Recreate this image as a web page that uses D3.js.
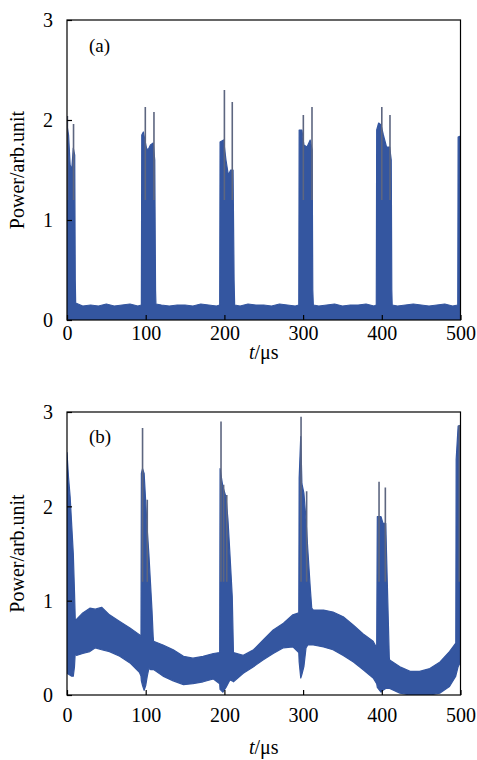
<!DOCTYPE html>
<html>
<head>
<meta charset="utf-8">
<script src="https://cdn.jsdelivr.net/npm/d3@7/dist/d3.min.js"></script>
<style>
  html, body { margin: 0; padding: 0; background: #ffffff; }
  svg { display: block; }
  text { font-family: "Liberation Serif", "Times New Roman", serif; fill: #000; }
</style>
</head>
<body>
<svg id="chart" width="477" height="760"></svg>
<script>
// ---------- data ----------
const xTicks = [0, 100, 200, 300, 400, 500];
const yTicks = [0, 1, 2, 3];
const xTitle = "t/μs";
const yTitle = "Power/arb.unit";

// Panel (a): upper envelope of the signal (lower bound is 0)
const aT = [0, 2, 4, 6, 8, 9.8, 10.5, 11, 20, 30, 40, 50, 60, 70, 80, 90, 94.5,
  95, 97, 99, 101, 103, 106, 109.5, 111.5, 112.5, 113, 120, 130, 140, 150, 160, 170, 180, 190, 194,
  194.5, 199, 202, 205, 208, 211, 212.3, 213, 220, 230, 240, 250, 260, 270, 280, 290, 294.5,
  295, 298.5, 301, 305, 309, 311.5, 312.3, 313, 320, 330, 340, 350, 360, 370, 380, 390, 393,
  393.5, 396, 399, 402, 406, 410, 412, 412.7, 413.2, 420, 430, 440, 450, 460, 470, 480, 490, 496.5,
  497, 500];
const aTop = [1.95, 1.85, 1.55, 1.5, 1.72, 1.65, 0.4, 0.17, 0.14, 0.15, 0.14, 0.16, 0.14, 0.15, 0.16, 0.14, 0.15,
  1.85, 1.88, 1.8, 1.72, 1.7, 1.75, 1.77, 1.6, 0.3, 0.16, 0.15, 0.14, 0.15, 0.15, 0.14, 0.16, 0.15, 0.14, 0.15,
  1.78, 1.8, 1.6, 1.45, 1.5, 1.5, 0.4, 0.15, 0.14, 0.16, 0.15, 0.15, 0.14, 0.16, 0.15, 0.14, 0.15,
  1.9, 1.9, 1.75, 1.73, 1.8, 1.7, 0.3, 0.15, 0.14, 0.15, 0.16, 0.14, 0.15, 0.15, 0.16, 0.14, 0.15,
  1.9, 1.97, 1.95, 1.85, 1.73, 1.73, 1.6, 0.3, 0.15, 0.14, 0.15, 0.16, 0.15, 0.14, 0.15, 0.16, 0.14, 0.15,
  1.83, 1.84];
// Panel (a): narrow peak spikes
const aSpikeT = [0.5, 8.3, 99.5, 110.5, 200, 210, 300.3, 311.3, 400, 410.4];
const aSpikeV = [2.04, 1.96, 2.13, 2.08, 2.30, 2.18, 2.05, 2.13, 2.13, 2.05];

// Panel (b): upper and lower envelope of the signal
const bT = [0, 2, 4, 6, 8, 9.5, 10.5, 12, 20, 29, 36, 44, 54, 67, 80, 92, 94,
  94.5, 96, 98, 100, 102, 104, 106, 108, 109.5, 110, 122, 135, 148, 160, 173, 186, 194,
  194.5, 198, 202, 204.5, 207, 210, 211.5, 224, 237, 249, 262, 275, 287, 294.5,
  295, 297, 298.5, 301, 303.7, 306, 309, 311, 313, 326, 338, 351, 364, 376, 389, 393.5,
  394.3, 399, 401.5, 405, 407, 409.5, 410, 423, 436, 448, 461, 474, 486, 494,
  494.5, 497, 500];
const bHi = [2.57, 2.3, 2.1, 1.8, 1.5, 1.1, 0.8, 0.8, 0.87, 0.92, 0.91, 0.93, 0.85, 0.78, 0.71, 0.64, 0.62,
  2.35, 2.4, 2.35, 2.05, 1.75, 1.5, 1.2, 0.9, 0.62, 0.57, 0.53, 0.48, 0.41, 0.39, 0.41, 0.44, 0.45,
  2.4, 2.21, 2.1, 1.86, 1.5, 1.04, 0.45, 0.42, 0.48, 0.58, 0.69, 0.76, 0.85, 0.87,
  2.3, 2.74, 2.24, 2.14, 1.86, 1.54, 1.15, 0.92, 0.9, 0.9, 0.88, 0.83, 0.74, 0.65, 0.57, 0.5,
  1.89, 1.89, 1.82, 1.82, 1.19, 0.4, 0.37, 0.3, 0.25, 0.25, 0.28, 0.35, 0.46, 0.55,
  2.5, 2.85, 2.86];
const bLo = [0.23, 0.22, 0.21, 0.2, 0.2, 0.3, 0.45, 0.42, 0.44, 0.46, 0.5, 0.48, 0.46, 0.41, 0.34, 0.24, 0.2,
  0.15, 0.1, 0.05, 0.1, 0.2, 0.28, 0.27, 0.27, 0.27, 0.27, 0.2, 0.15, 0.11, 0.12, 0.14, 0.17, 0.12,
  0.06, 0.03, 0.08, 0.12, 0.16, 0.15, 0.14, 0.23, 0.3, 0.37, 0.44, 0.5, 0.51, 0.45,
  0.35, 0.18, 0.22, 0.3, 0.5, 0.53, 0.53, 0.53, 0.53, 0.51, 0.48, 0.42, 0.35, 0.27, 0.18, 0.12,
  0.08, 0.03, 0.05, 0.07, 0.07, 0.07, 0.07, 0.02, 0.0, 0.0, 0.0, 0.02, 0.09, 0.2,
  0.22, 0.3, 0.35];
// Panel (b): narrow peak spikes
const bSpikeT = [96, 102, 195.7, 199, 203, 297.4, 304.5, 396.5, 404.5, 498.5];
const bSpikeV = [2.83, 2.07, 2.90, 2.23, 2.12, 2.95, 2.16, 2.26, 2.20, 2.86];

// ---------- drawing ----------
const svg = d3.select("#chart");
const FILL = "#3456a0";
const SPIKE = "#5d6680";

const panels = [
  { label: "(a)", top: 20, bottom: 320, t: aT, hi: aTop, lo: null, sT: aSpikeT, sV: aSpikeV,
    tickY: 340, titleY: 359, labelY: 52 },
  { label: "(b)", top: 412, bottom: 695, t: bT, hi: bHi, lo: bLo, sT: bSpikeT, sV: bSpikeV,
    tickY: 722, titleY: 754, labelY: 443 }
];

const left = 67, right = 460.5;

panels.forEach(p => {
  const x = d3.scaleLinear().domain([0, 500]).range([left, right]);
  const y = d3.scaleLinear().domain([0, 3]).range([p.bottom, p.top]);
  const g = svg.append("g");

  const clipId = "clip" + p.label.replace(/\W/g, "");
  svg.append("clipPath").attr("id", clipId)
    .append("rect").attr("x", left).attr("y", p.top)
    .attr("width", right - left).attr("height", p.bottom - p.top);

  const plot = g.append("g").attr("clip-path", `url(#${clipId})`);

  const idx = d3.range(p.t.length);
  const area = d3.area()
    .x(i => x(p.t[i]))
    .y0(i => y(p.lo ? p.lo[i] : 0))
    .y1(i => y(p.hi[i]));
  plot.append("path").datum(idx)
    .attr("d", area)
    .attr("fill", FILL)
    .attr("stroke", FILL)
    .attr("stroke-width", 1.2)
    .attr("stroke-linejoin", "round");

  // spikes
  plot.selectAll("line.spike").data(d3.range(p.sT.length)).join("line")
    .attr("class", "spike")
    .attr("x1", i => x(p.sT[i])).attr("x2", i => x(p.sT[i]))
    .attr("y1", i => y(1.2)).attr("y2", i => y(p.sV[i]))
    .attr("stroke", SPIKE).attr("stroke-width", 1.6);

  // frame
  g.append("rect").attr("x", left).attr("y", p.top)
    .attr("width", right - left).attr("height", p.bottom - p.top)
    .attr("fill", "none").attr("stroke", "#000").attr("stroke-width", 1.2);

  // x axis (inward ticks)
  const xAxis = d3.axisBottom(x).tickValues(xTicks).tickSize(-5).tickPadding(0).tickFormat(d3.format("d"));
  const xg = g.append("g").attr("transform", `translate(0,${p.bottom})`).call(xAxis);
  xg.select(".domain").remove();
  xg.selectAll(".tick line").attr("stroke", "#000").attr("stroke-width", 1.2);
  xg.selectAll(".tick text").attr("y", p.tickY - p.bottom).attr("dy", 0)
    .style("font-size", "20px").style("font-family", "Liberation Serif, serif");

  // y axis (inward ticks)
  const yAxis = d3.axisLeft(y).tickValues(yTicks).tickSize(-5).tickPadding(0).tickFormat(d3.format("d"));
  const yg = g.append("g").attr("transform", `translate(${left},0)`).call(yAxis);
  yg.select(".domain").remove();
  yg.selectAll(".tick line").attr("stroke", "#000").attr("stroke-width", 1.2);
  yg.selectAll(".tick text").attr("x", -14).attr("dy", "0.34em")
    .style("font-size", "20px").style("font-family", "Liberation Serif, serif");

  // x title
  const xt = g.append("text").attr("x", (left + right) / 2).attr("y", p.titleY)
    .attr("text-anchor", "middle").style("font-size", "20px");
  xt.append("tspan").style("font-style", "italic").text(xTitle.slice(0, 1));
  xt.append("tspan").text(xTitle.slice(1));

  // y title
  g.append("text")
    .attr("transform", `translate(24,${(p.top + p.bottom) / 2}) rotate(-90)`)
    .attr("text-anchor", "middle").style("font-size", "20px")
    .text(yTitle);

  // panel label
  g.append("text").attr("x", 89).attr("y", p.labelY).style("font-size", "19px").text(p.label);
});
</script>
</body>
</html>
